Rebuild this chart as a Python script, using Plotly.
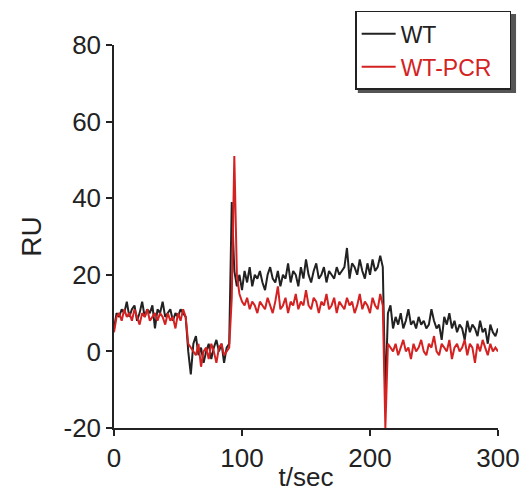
import plotly.graph_objects as go

# time axis (s), 2-second sampling
t_sec = list(range(0, 301, 2))

wt = [
    6, 10, 9, 11, 10, 13, 9, 11, 12, 8,
    10, 13, 9, 11, 10, 12, 6, 11, 10, 13,
    9, 10, 11, 8, 10, 9, 11, 10, 9, 0,
    -6, 2, 4, -1, 1, -3, 0, 2, -2, 1,
    3, 0, 2, -3, 1, 2, 39, 21, 17, 20,
    16, 21, 18, 22, 17, 20, 19, 21, 18, 16,
    20, 22, 19, 18, 21, 17, 20, 19, 23, 18,
    21, 20, 17, 22, 19, 24, 20, 18, 21, 23,
    19, 20, 22, 18, 21, 20, 19, 22, 20, 21,
    22, 27, 19, 23, 22, 20, 24, 21, 19, 23,
    20, 24, 21, 22, 25, 22, -12, 10, 12, 6,
    9, 7, 10, 6, 8, 11, 7, 8, 6, 9,
    7, 8, 6, 7, 11, 8, 6, 7, 3, 9,
    7, 10, 6, 8, 5, 7, 6, 3, 8, 5,
    7, 6, 4, 8, 5, 6, 2, 7, 5, 4,
    6,
]

wt_pcr = [
    5, 9, 10, 8, 11, 9, 10, 8, 11, 9,
    7, 10, 9, 11, 8, 9, 10, 8, 10, 9,
    7, 10, 8, 9, 6, 10, 8, 11, 9, 2,
    1, 0, -1, 2, -4, 0, 1, -2, 2, 0,
    -3, 1, 2, -1, 0, 1, 14, 51, 20, 15,
    13, 12, 14, 11, 13, 12, 10, 13, 12, 11,
    14, 12, 10, 13, 17, 11, 12, 14, 10, 13,
    12, 15, 11, 13, 12, 16, 12, 11, 14, 13,
    10, 13, 12, 15, 11, 12, 14, 10, 13, 12,
    11, 14, 12, 13, 10, 12, 15, 11, 13, 12,
    10, 14, 12, 11, 15, 12, -20, 2, 1, 0,
    2, -1, 1, 3, 0, 1, -2, 2, 0, 1,
    3, 0, -1, 2, 1, 4, 0, -1, 2, 1,
    0, 3, -2, 1, 2, 0, 1, 3, -1, 2,
    1, -3, 2, 0, 3, 1, -1, 2, 0, 1,
    0,
]

x_ticks = [0, 100, 200, 300]
y_ticks = [-20, 0, 20, 40, 60, 80]
y_tick_text = ["-20", "0", "20", "40", "60", "80"]

BLACK = "#222222"
RED = "#d42222"
FONT = "Liberation Sans, Arial, sans-serif"
NBSP = "\u00a0"

fig = go.Figure()
fig.add_trace(go.Scatter(x=t_sec, y=wt, mode="lines", name="WT",
                         line=dict(color=BLACK, width=2)))
fig.add_trace(go.Scatter(x=t_sec, y=wt_pcr, mode="lines",
                         name="<span style='color:#d42222'>WT-PCR</span>" + NBSP * 2,
                         line=dict(color=RED, width=2)))

# legend drop shadow (paper coords: plot area 384 x 383 px)
fig.add_shape(type="rect", xref="paper", yref="paper",
              x0=0.635, x1=1.047, y0=0.875, y1=1.081,
              fillcolor="#555555", line=dict(width=0), layer="below")

# page body adds an 8 px offset, so the figure is 8 px smaller
fig.update_layout(
    width=520, height=484,
    margin=dict(l=106, r=30, t=37, b=64, autoexpand=False),
    paper_bgcolor="white", plot_bgcolor="white",
    font=dict(family=FONT, size=26, color=BLACK),
    showlegend=True,
    legend=dict(x=0.628, y=1.089, xanchor="left", yanchor="top",
                bgcolor="white", bordercolor=BLACK, borderwidth=1.5,
                font=dict(size=23, color=BLACK), tracegroupgap=0,
                itemwidth=34),
    xaxis=dict(range=[0, 300], tickvals=x_ticks, showline=True,
               linecolor=BLACK, linewidth=1.5, ticks="outside",
               ticklen=6, tickwidth=1.5, tickcolor=BLACK, showgrid=False,
               zeroline=False, tickfont=dict(size=26),
               title=dict(text="t/sec", font=dict(size=26), standoff=0)),
    yaxis=dict(range=[-20, 80], tickvals=y_ticks, ticktext=y_tick_text,
               showline=True,
               linecolor=BLACK, linewidth=1.5, ticks="outside",
               ticklen=6, tickwidth=1.5, tickcolor=BLACK, showgrid=False,
               zeroline=False, tickfont=dict(size=26),
               title=dict(text="RU", font=dict(size=28), standoff=14)),
)

fig.write_html("out.html")
